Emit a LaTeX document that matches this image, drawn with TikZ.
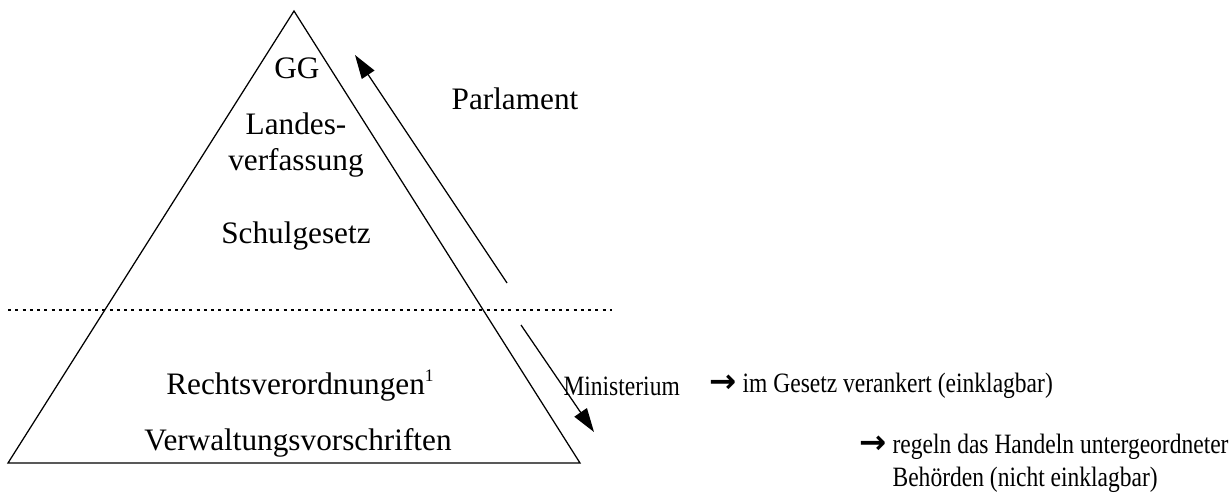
\documentclass[tikz,border=0pt]{standalone}
\usepackage{fontspec}
\setmainfont{Liberation Serif}
\newfontfamily\sidefont[FakeStretch=0.84]{Liberation Serif}
\newfontfamily\arrowfont{DejaVu Sans}
\usetikzlibrary{arrows.meta}
\newcommand{\impl}{{\arrowfont\bfseries\fontsize{13}{13}\selectfont →}}

\begin{document}
\begin{tikzpicture}[x=0.4pt, y=-0.4pt,
  every node/.style={font=\fontsize{12.5}{14.5}\selectfont, inner sep=0pt},
  side/.style={font=\sidefont\fontsize{11.2}{13.2}\selectfont},
  flow/.style={line width=0.5pt, -{Triangle[length=9.5pt,width=6pt]}}]
\useasboundingbox (0,0) rectangle (1229,493);
% pyramid
\coordinate (apex) at (294,11);
\coordinate (baseL) at (8,463);
\coordinate (baseR) at (580,463);
\draw[line width=0.5pt] (apex) -- (baseR) -- (baseL) -- cycle;
% border between laws and ordinances
\coordinate (cutL) at (8,310);
\coordinate (cutR) at (612,310);
\draw[line width=0.9pt, dash pattern=on 1.2pt off 1.7pt] (cutL) -- (cutR);
% levels
\node (gg) at (297,68) {GG};
\node[align=center] (lv) at (296,145) {Landes-\\verfassung};
\node (sg) at (296,236) {Schulgesetz};
\node (rv) at (300,386) {Rechtsverordnungen\raisebox{0.9ex}{\fontsize{7}{7}\selectfont 1}};
\node (vv) at (298,443) {Verwaltungsvorschriften};
% who issues them
\coordinate (parlFrom) at (507,283);
\coordinate (parlTo) at (355,55);
\draw[flow] (parlFrom) -- (parlTo);
\node (parl) at (515,99) {Parlament};
\coordinate (minFrom) at (521,325);
\coordinate (minTo) at (594,432);
\draw[flow] (minFrom) -- (minTo);
\node[anchor=west, side] (min) at (563,386) {Ministerium};
% notes
\node[anchor=west, side] (noteRV) at (709,386) {\impl\ im Gesetz verankert (einklagbar)};
\node[anchor=north west, align=left, side] (noteVV) at (859,434) {\impl\ regeln das Handeln untergeordneter\\\phantom{\impl\ }Behörden (nicht einklagbar)};
\end{tikzpicture}
\end{document}
